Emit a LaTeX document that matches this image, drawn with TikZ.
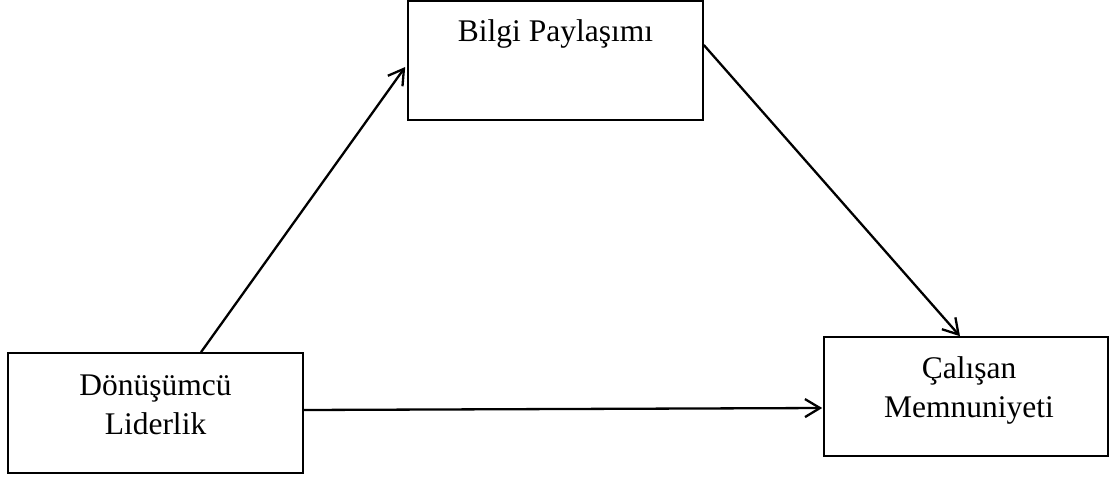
\documentclass[tikz,border=0pt]{standalone}
\usepackage{fontspec}
\setmainfont{Liberation Serif}
\usetikzlibrary{arrows.meta}
\begin{document}
\begin{tikzpicture}[x=1pt,y=-1pt,
  box/.style={draw=black,line width=1.6pt,rectangle,inner sep=0pt},
  lbl/.style={align=center,inner sep=0pt,font=\fontsize{31.5}{39}\selectfont},
  arr/.style={line width=2.3pt,-{Straight Barb[length=15pt,width=18pt,line width=2.3pt]}}]
\useasboundingbox (0,0) rectangle (1110,477);
\node[box,minimum width=295pt,minimum height=119pt] (bp) at (555.5,60.5) {};
\node[box,minimum width=295pt,minimum height=120pt] (dl) at (155.5,413) {};
\node[box,minimum width=284pt,minimum height=119pt] (cm) at (966,396.5) {};
\node[lbl,anchor=base] (bpt) at (555.5,41) {Bilgi Paylaşımı};
\node[lbl] (dlt) at (155.5,405) {Dönüşümcü\\Liderlik};
\node[lbl] (cmt) at (969,390) {Çalışan\\Memnuniyeti};
\draw[arr] ([xshift=45.5pt]dl.north) -- ([yshift=-6.5pt,xshift=-2pt]bp.west);
\draw[arr] ([yshift=15.5pt]bp.east) -- ([xshift=-6pt]cm.north);
\draw[arr] ([yshift=3pt]dl.east) -- ([yshift=-11.5pt,xshift=-1pt]cm.west);
\end{tikzpicture}
\end{document}
